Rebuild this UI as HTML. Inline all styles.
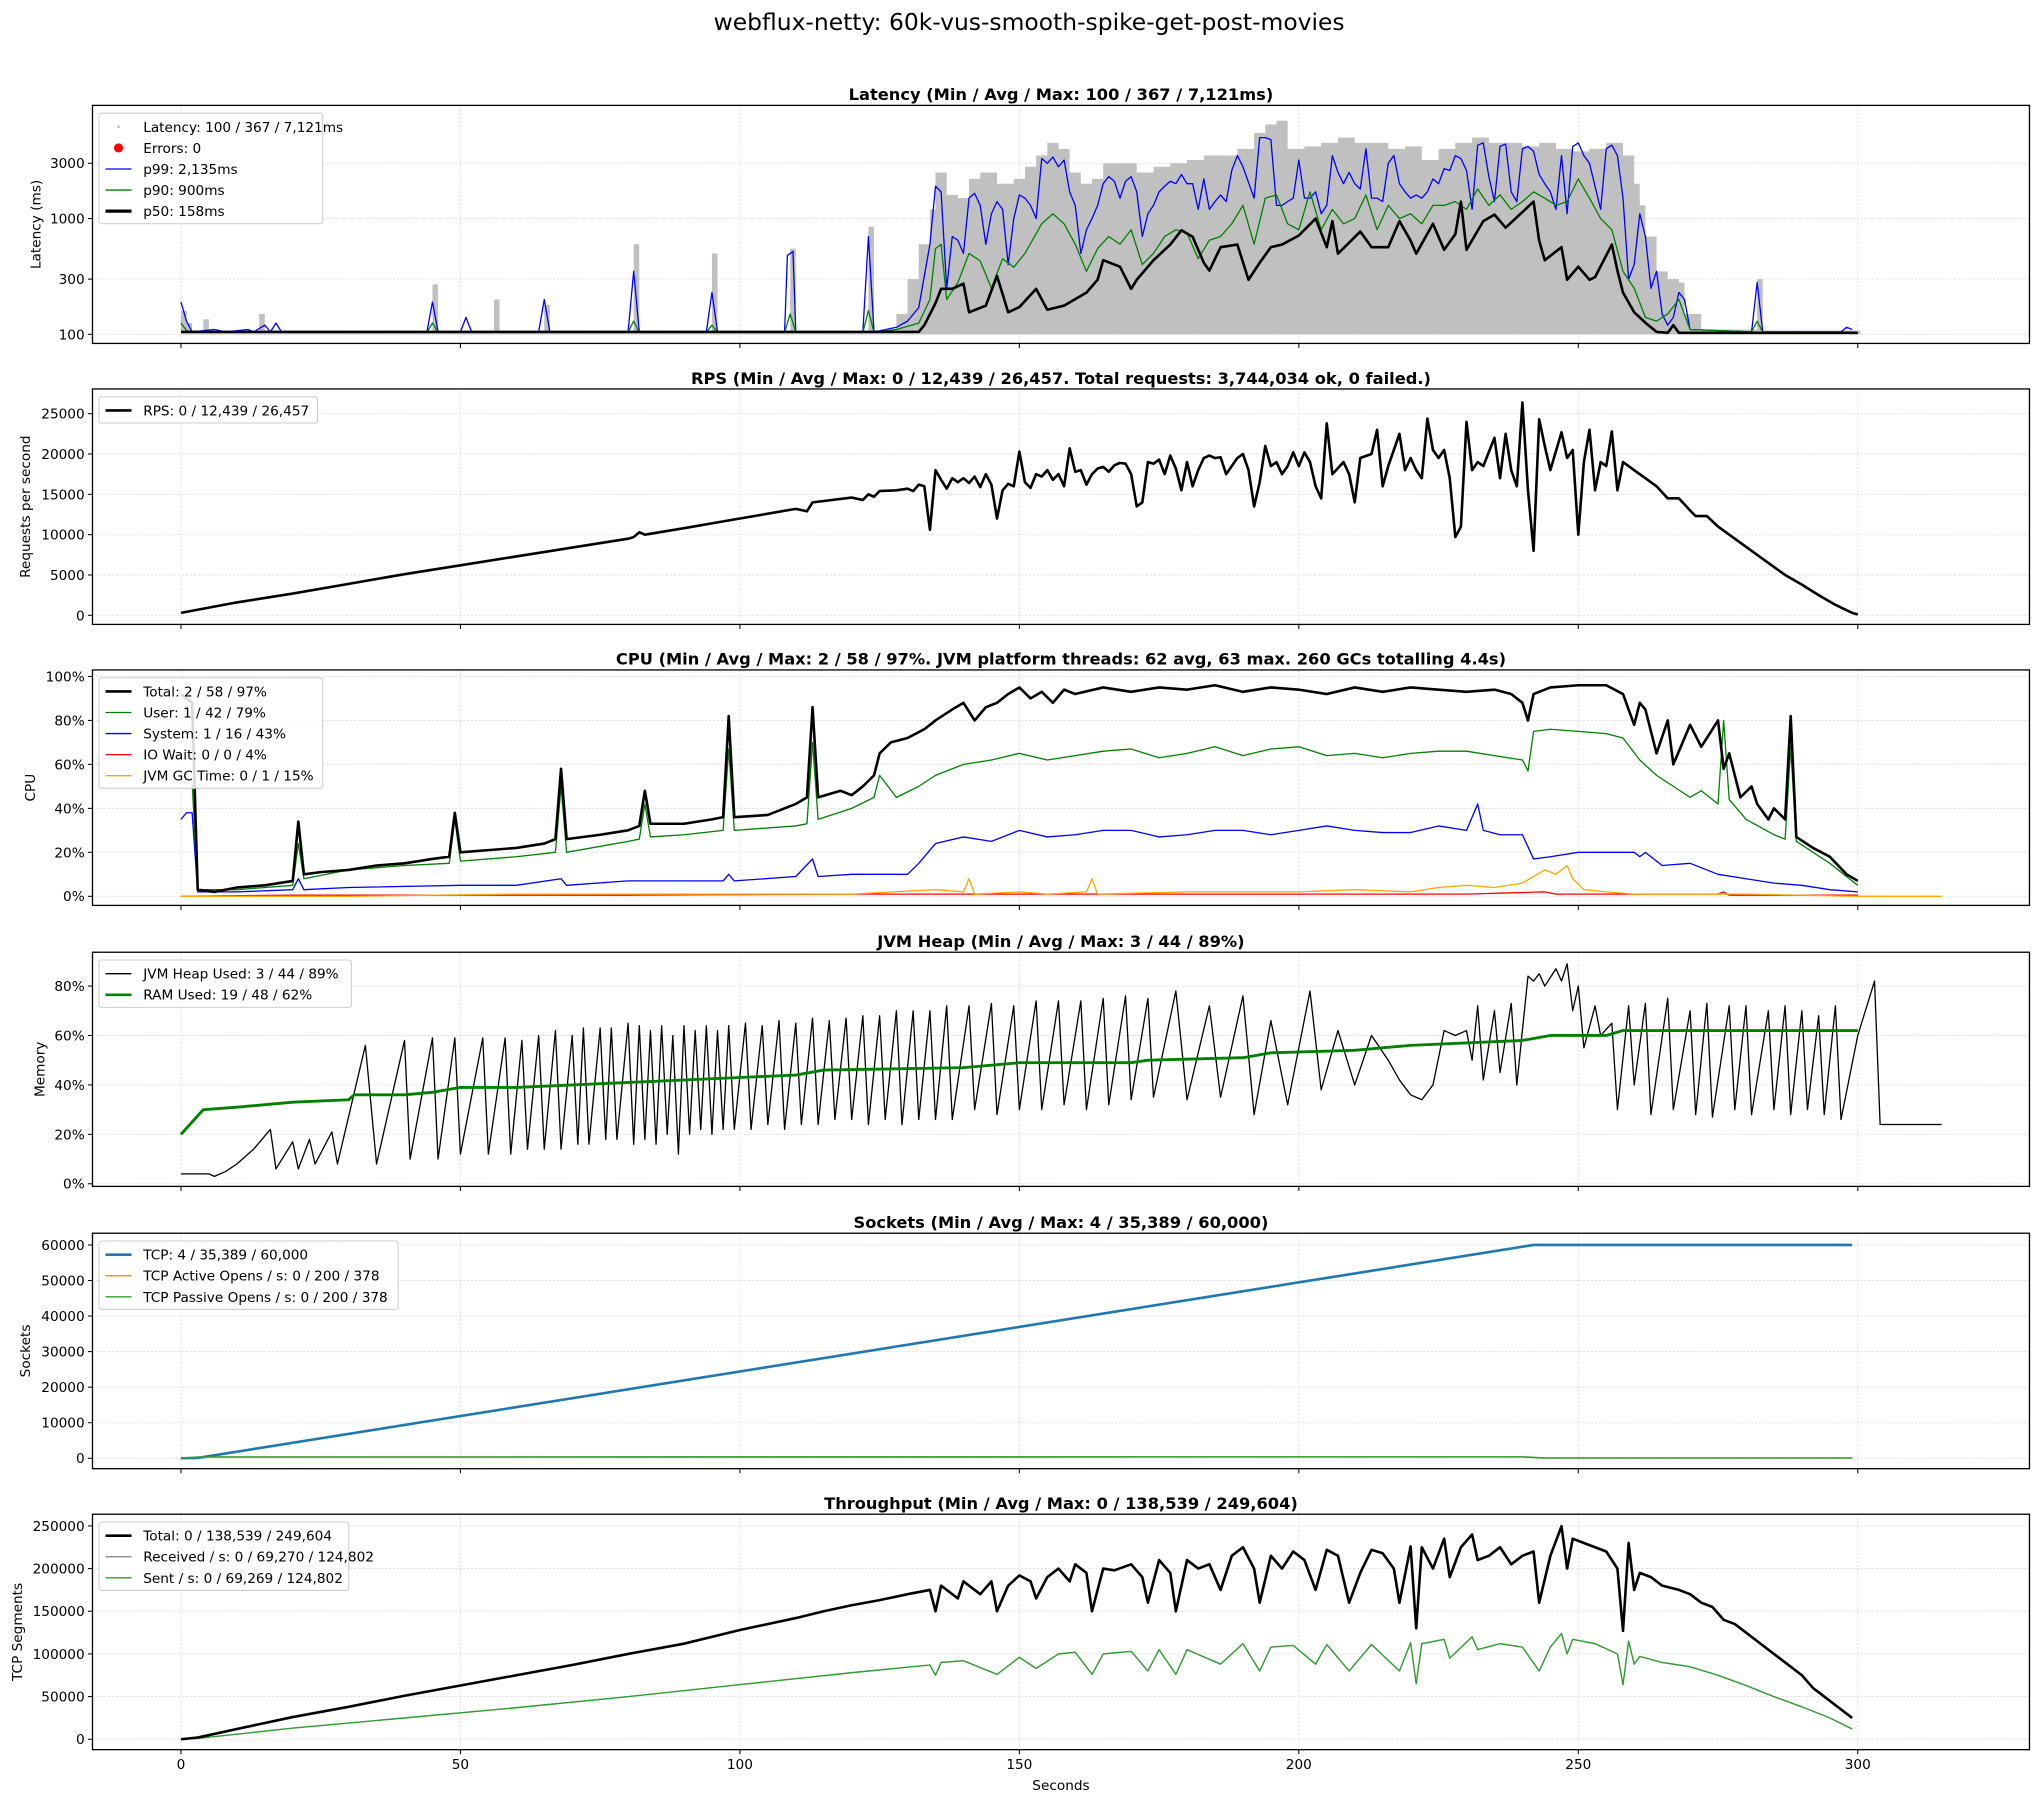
<!DOCTYPE html>
<html><head><meta charset="utf-8"><style>
html,body{margin:0;padding:0;background:#fff}
svg{display:block;font-family:"DejaVu Sans","Liberation Sans",sans-serif}
</style></head><body>
<svg id="chart" width="2040" height="1803" viewBox="0 0 1568 1386" xmlns="http://www.w3.org/2000/svg">
<rect width="1568" height="1386" fill="#fff"/>
<text x="791" y="23" font-size="18" text-anchor="middle">webflux-netty: 60k-vus-smooth-spike-get-post-movies</text>
</svg>
<script>
const xTicks=[0,50,100,150,200,250,300];
const latTicks=[100,300,1000,3000];
const rpsTicks=[0,5000,10000,15000,20000,25000];
const cpuTicks=[0,20,40,60,80,100];
const heapTicks=[0,20,40,60,80];
const sockTicks=[0,10000,20000,30000,40000,50000,60000];
const thrTicks=[0,50000,100000,150000,200000,250000];

const latMax=[[0,160],[1,125],[2,108],[4,135],[5,107],[14,150],[15,107],[44,107],[45,270],[46,107],[55,107],[56,200],[57,107],[64,107],[65,180],[66,107],[80,107],[81,600],[82,107],[94,107],[95,500],[96,107],[108,108],[109,550],[110,107],[122,108],[123,850],[124,108],[128,150],[130,300],[132,600],[134,1200],[135,2500],[137,1600],[139,1500],[141,2200],[143,2500],[146,2000],[149,2200],[151,2800],[153,3500],[155,4500],[157,4000],[159,2500],[161,2000],[163,2200],[165,3000],[168,3000],[171,2500],[174,2800],[177,3000],[180,3200],[183,3500],[186,3500],[189,4000],[192,5500],[194,6500],[196,7000],[198,4000],[201,4200],[204,4500],[207,5000],[210,4500],[213,4500],[216,4000],[219,4200],[222,3200],[225,4000],[228,4500],[231,5000],[234,4500],[237,4500],[240,4200],[243,4500],[246,4000],[249,3800],[252,4000],[255,4500],[258,3500],[260,2000],[261,1300],[262,700],[264,350],[266,300],[268,280],[269,150],[272,110],[281,110],[282,300],[283,108],[300,108]];
const p99=[[0,190],[1,130],[2,105],[6,110],[8,105],[12,110],[13,105],[15,120],[16,105],[17,125],[18,105],[44,105],[45,190],[46,105],[50,105],[51,140],[52,105],[64,105],[65,200],[66,105],[80,105],[81,350],[82,105],[94,105],[95,230],[96,105],[108,105],[108.5,480],[109.5,520],[110,105],[122,105],[123,700],[124,105],[128,115],[130,130],[132,170],[134,600],[135,1900],[136,1700],[137,250],[138,700],[139,650],[140,500],[141,1500],[142,1650],[143,1300],[144,600],[145,1100],[146,1400],[147,1200],[148,400],[149,1000],[150,1600],[151,1500],[152,1300],[153,1000],[154,3300],[155,3000],[156,3400],[157,2800],[158,3200],[159,1700],[160,1300],[161,500],[162,800],[163,1000],[164,1300],[165,2000],[166,2300],[167,2100],[168,1500],[169,2100],[170,2300],[171,1700],[172,700],[173,1100],[174,1300],[175,1700],[176,1900],[177,2100],[178,2000],[179,2400],[180,2000],[181,2000],[182,1200],[183,2200],[184,1200],[185,1400],[186,1600],[187,1400],[188,2600],[189,3500],[190,2800],[192,1500],[193,5000],[194,5000],[195,4800],[196,1300],[197,1300],[198,1400],[199,1500],[200,3200],[201,1500],[202,1500],[203,1700],[204,1100],[205,1300],[206,3500],[207,2500],[208,2000],[209,2500],[210,2000],[211,1800],[212,4000],[213,1500],[214,1500],[215,1400],[216,3000],[217,3500],[218,2000],[219,1700],[220,1500],[221,1600],[222,1500],[223,1700],[224,2200],[225,2000],[226,2700],[227,2600],[228,3500],[229,3300],[230,2600],[231,1200],[232,4300],[233,4500],[234,2300],[235,1400],[236,4200],[237,4400],[238,1700],[239,1400],[240,4000],[241,4200],[242,3800],[243,2400],[244,2000],[245,1700],[246,1200],[247,3500],[248,1100],[249,4200],[250,4500],[251,3500],[252,3000],[254,1200],[255,4000],[256,4300],[257,3500],[258,1500],[259,300],[260,400],[261,1100],[262,700],[263,250],[264,350],[265,150],[266,120],[267,140],[268,230],[269,200],[270,110],[281,105],[282,280],[283,105],[297,105],[298,115],[299,110]];
const p90=[[0,125],[1,108],[2,104],[44,104],[45,125],[46,104],[80,104],[81,130],[82,104],[94,104],[95,120],[96,104],[108,104],[109,150],[110,104],[122,104],[123,160],[124,104],[128,110],[132,125],[134,200],[135,550],[136,600],[137,200],[139,280],[141,500],[143,430],[145,250],[147,450],[149,380],[151,500],[154,900],[156,1100],[158,900],[160,600],[162,350],[164,550],[166,700],[168,600],[170,800],[172,400],[174,500],[176,700],[178,800],[180,750],[182,450],[184,650],[186,700],[188,900],[190,1300],[192,600],[194,1500],[196,1600],[198,900],[200,800],[202,1700],[204,800],[206,1200],[208,900],[210,1000],[212,1600],[214,800],[216,1300],[218,1000],[220,1100],[222,900],[224,1300],[226,1300],[228,1400],[230,1200],[232,1800],[234,1300],[236,1600],[238,1200],[240,1400],[242,1700],[244,1500],[246,1300],[248,1400],[250,2200],[252,1500],[254,1000],[256,800],[258,350],[260,250],[262,140],[264,130],[266,150],[268,200],[270,110],[281,105],[282,130],[283,104],[299,104]];
const p50=[[0,105],[132,105],[133,120],[135,186],[136,247],[138,247],[140,274],[141,155],[144,177],[146,320],[148,155],[150,172],[153,247],[155,163],[158,177],[162,229],[164,296],[165,437],[168,384],[170,247],[171,296],[174,437],[177,596],[179,792],[181,696],[183,415],[184,355],[186,566],[189,596],[191,296],[193,415],[195,566],[197,596],[200,714],[203,1000],[205,566],[206,950],[207,497],[211,772],[213,566],[216,566],[218,950],[220,644],[221,497],[224,902],[226,537],[228,733],[229,1400],[230,537],[233,950],[235,1081],[237,834],[240,1138],[242,1400],[243,644],[244,437],[247,566],[248,296],[250,384],[252,296],[253,312],[256,596],[257,355],[258,229],[260,155],[262,126],[264,105],[266,103],[267,120],[268,103],[300,103]];

const rps=[[0,300],[10,1600],[20,2700],[30,3900],[40,5100],[50,6200],[60,7300],[70,8400],[80,9500],[81,9700],[82,10300],[83,10000],[90,10800],[100,12000],[110,13200],[112,12900],[113,14000],[120,14600],[122,14300],[123,15000],[124,14700],[125,15400],[128,15500],[130,15700],[131,15400],[132,16200],[133,16000],[134,10600],[135,18000],[136,16800],[137,15700],[138,17000],[139,16500],[140,17000],[141,16400],[142,17200],[143,15900],[144,17500],[145,16200],[146,12000],[147,15500],[148,16300],[149,16000],[150,20300],[151,16500],[152,15800],[153,17500],[154,17200],[155,18000],[156,16800],[157,17500],[158,16000],[159,20700],[160,17800],[161,18000],[162,16200],[163,17500],[164,18200],[165,18400],[166,17800],[167,18600],[168,18900],[169,18800],[170,17500],[171,13500],[172,14000],[173,19000],[174,18800],[175,19300],[176,17500],[177,19800],[178,18200],[179,15500],[180,19000],[181,16000],[182,18000],[183,19500],[184,19800],[185,19500],[186,19600],[187,17500],[188,18500],[189,19500],[190,20000],[191,18000],[192,13500],[193,16500],[194,21000],[195,18500],[196,19000],[197,17500],[198,18500],[199,20200],[200,18500],[201,20200],[202,19000],[203,16000],[204,14500],[205,23800],[206,17500],[208,19000],[209,17500],[210,14000],[211,19500],[213,20000],[214,23000],[215,16000],[216,18500],[218,22500],[219,18000],[220,19500],[221,18000],[222,17000],[223,24400],[224,20500],[225,19500],[226,20500],[227,17000],[228,9700],[229,11000],[230,24000],[231,18000],[232,19000],[233,18500],[235,22000],[236,17000],[237,22500],[238,18000],[239,16000],[240,26400],[241,15500],[242,8000],[243,24300],[244,21000],[245,18000],[247,22700],[248,19500],[249,20500],[250,10000],[251,19000],[252,23000],[253,15500],[254,19000],[255,18500],[256,22800],[257,15500],[258,19000],[260,18000],[262,17000],[264,16000],[266,14500],[268,14500],[270,13000],[271,12300],[273,12300],[275,11000],[278,9500],[281,8000],[284,6500],[287,5000],[290,3800],[293,2500],[296,1300],[299,300],[300,100]];

const cpuTotal=[[0,92],[2,88],[3,3],[6,2],[10,4],[15,5],[20,7],[21,34],[22,10],[25,11],[30,12],[35,14],[40,15],[45,17],[48,18],[49,38],[50,20],[55,21],[60,22],[65,24],[67,26],[68,58],[69,26],[75,28],[80,30],[82,32],[83,48],[84,33],[90,33],[95,35],[97,36],[98,82],[99,36],[105,37],[110,42],[112,45],[113,86],[114,45],[118,48],[120,46],[122,50],[124,55],[125,65],[127,70],[130,72],[133,76],[135,80],[138,85],[140,88],[142,80],[144,86],[146,88],[148,92],[150,95],[152,90],[154,93],[156,88],[158,94],[160,92],[165,95],[170,93],[175,95],[180,94],[185,96],[190,93],[195,95],[200,94],[205,92],[210,95],[215,93],[220,95],[225,94],[230,93],[235,94],[238,92],[240,88],[241,80],[242,92],[245,95],[250,96],[255,96],[258,92],[260,78],[261,88],[262,85],[264,65],[266,80],[267,60],[270,78],[272,68],[275,80],[276,58],[277,65],[279,45],[281,50],[282,42],[284,35],[285,40],[287,35],[288,82],[289,27],[292,22],[295,18],[298,10],[300,7]];
const cpuUser=[[0,55],[2,52],[3,3],[10,3],[20,5],[21,24],[22,8],[30,12],[40,14],[48,15],[49,35],[50,16],[60,18],[67,20],[68,50],[69,20],[80,25],[82,26],[83,42],[84,27],[90,28],[97,30],[98,67],[99,30],[110,32],[112,33],[113,70],[114,35],[120,40],[124,45],[125,55],[128,45],[132,50],[135,55],[140,60],[145,62],[150,65],[155,62],[160,64],[165,66],[170,67],[175,63],[180,65],[185,68],[190,64],[195,67],[200,68],[205,64],[210,65],[215,63],[220,65],[225,66],[230,66],[235,64],[240,62],[241,57],[242,75],[245,76],[250,75],[255,74],[258,72],[261,62],[264,55],[267,50],[270,45],[272,48],[275,42],[276,80],[277,44],[280,35],[285,28],[287,26],[288,68],[289,25],[295,15],[300,5]];
const cpuSys=[[0,35],[1,38],[2,38],[3,2],[10,2],[20,3],[21,8],[22,3],[30,4],[50,5],[60,5],[68,8],[69,5],[80,7],[97,7],[98,10],[99,7],[110,9],[113,17],[114,9],[120,10],[130,10],[132,15],[135,24],[140,27],[145,25],[150,30],[155,27],[160,28],[165,30],[170,30],[175,27],[180,28],[185,30],[190,30],[195,28],[200,30],[205,32],[210,30],[215,29],[220,29],[225,32],[230,30],[232,42],[233,30],[236,28],[240,28],[242,17],[245,18],[250,20],[255,20],[260,20],[261,18],[262,20],[265,14],[270,15],[275,10],[280,8],[285,6],[290,5],[295,3],[300,2]];
const cpuIo=[[0,0],[20,0.5],[40,0.5],[80,0.5],[120,1],[200,1],[230,1],[244,2],[246,1],[275,1],[276,2],[277,0.5],[300,0.5]];
const cpuGc=[[0,0],[30,0],[60,1],[90,1],[120,1],[135,3],[140,2],[141,8],[142,1],[150,2],[155,1],[162,2],[163,8],[164,1],[180,2],[200,2],[210,3],[220,2],[225,4],[230,5],[235,4],[240,6],[244,12],[246,10],[248,14],[249,8],[251,3],[255,2],[260,1],[270,1],[280,1],[300,0],[315,0]];

const heapUsed=[[0,4],[5,4],[6,3],[8,5],[10,8],[13,14],[16,22],[17,6],[20,17],[21,6],[23,18],[24,8],[27,21],[28,8],[33,56],[35,8],[40,58],[41,10],[45,59],[46,10],[49,59],[50,12],[54,59],[55,12],[58,59],[59,12],[61,58],[62,14],[64,60],[65,14],[67,62],[68,14],[70,60],[71,16],[72,63],[73,16],[75,63],[76,18],[77,63],[78,18],[80,65],[81,16],[82,64],[83,18],[84,62],[85,16],[86,64],[87,20],[88,60],[89,12],[90,64],[91,20],[92,62],[93,22],[94,64],[95,20],[96,62],[97,22],[98,64],[99,22],[101,65],[102,22],[104,64],[105,24],[107,66],[108,22],[110,65],[111,24],[113,67],[114,24],[116,66],[117,26],[119,67],[120,26],[122,68],[123,24],[125,68],[126,26],[128,70],[129,24],[131,70],[132,26],[134,70],[135,26],[137,72],[138,26],[141,72],[142,30],[145,73],[146,28],[149,72],[150,30],[153,74],[154,30],[157,74],[158,32],[161,74],[162,30],[165,75],[166,32],[169,76],[170,34],[173,75],[174,35],[178,78],[180,34],[184,72],[186,35],[190,76],[192,28],[195,66],[198,32],[202,78],[204,38],[207,62],[210,40],[213,60],[216,50],[218,42],[220,36],[222,34],[224,40],[226,62],[228,60],[230,62],[231,50],[232,72],[233,42],[235,70],[236,45],[238,73],[239,40],[241,84],[242,82],[243,85],[244,80],[246,87],[247,82],[248,89],[249,70],[250,80],[251,55],[253,72],[254,60],[256,65],[257,30],[259,72],[260,40],[262,73],[263,28],[266,75],[267,30],[270,70],[271,28],[273,73],[274,27],[277,72],[278,30],[280,72],[281,28],[284,70],[285,30],[287,72],[288,28],[290,70],[291,30],[293,68],[294,28],[296,72],[297,26],[300,60],[303,82],[304,24],[312,24],[315,24]];
const ramUsed=[[0,20],[2,25],[4,30],[10,31],[20,33],[30,34],[31,36],[40,36],[45,37],[50,39],[60,39],[70,40],[80,41],[100,43],[110,44],[115,46],[140,47],[150,49],[170,49],[173,50],[190,51],[195,53],[210,54],[220,56],[240,58],[245,60],[255,60],[258,62],[300,62]];

const sockTcp=[[0,4],[3,100],[242,60000],[299,60000]];
const sockActive=[[0,0],[3,350],[240,400],[244,80],[299,80]];
const sockPassive=[[0,0],[3,350],[240,400],[244,80],[299,80]];

const thrTotal=[[0,0],[3,2000],[10,12000],[20,26000],[30,38000],[40,51000],[50,63000],[60,75000],[70,87000],[80,100000],[90,112000],[100,128000],[110,142000],[115,150000],[120,157000],[125,163000],[130,170000],[134,175000],[135,150000],[136,180000],[139,165000],[140,185000],[143,170000],[145,185000],[146,150000],[148,180000],[150,192000],[152,185000],[153,165000],[155,190000],[157,200000],[159,185000],[160,205000],[162,195000],[163,150000],[165,200000],[167,198000],[170,205000],[172,190000],[173,160000],[175,210000],[177,195000],[178,150000],[180,210000],[182,200000],[184,205000],[186,175000],[188,215000],[190,225000],[192,200000],[193,160000],[195,215000],[197,200000],[199,220000],[201,210000],[203,175000],[205,222000],[207,215000],[209,160000],[211,195000],[213,222000],[215,218000],[217,200000],[218,160000],[220,226000],[221,130000],[222,225000],[224,200000],[226,235000],[227,190000],[229,225000],[231,240000],[232,210000],[234,215000],[236,225000],[238,205000],[240,215000],[242,220000],[243,160000],[245,215000],[247,249604],[248,200000],[249,235000],[251,230000],[253,225000],[255,220000],[257,200000],[258,127000],[259,230000],[260,175000],[261,195000],[263,190000],[265,180000],[268,175000],[270,170000],[272,160000],[274,155000],[276,140000],[278,135000],[280,125000],[282,115000],[284,105000],[286,95000],[288,85000],[290,75000],[292,60000],[294,50000],[296,40000],[298,30000],[299,25000]];
const thrReceived=[[0,0],[3,1000],[20,13000],[40,25000],[60,37000],[80,50000],[100,64000],[120,78000],[134,87000],[135,75000],[136,90000],[140,92000],[146,76000],[150,96000],[153,83000],[157,100000],[160,102000],[163,76000],[165,100000],[170,103000],[173,80000],[175,105000],[178,76000],[180,105000],[186,88000],[190,112000],[193,80000],[195,108000],[199,110000],[203,88000],[205,111000],[209,80000],[213,111000],[218,80000],[220,113000],[221,65000],[222,112000],[226,117000],[227,95000],[231,120000],[232,105000],[236,112000],[240,108000],[243,80000],[245,108000],[247,124000],[248,100000],[249,117000],[253,112000],[257,100000],[258,64000],[259,115000],[260,88000],[261,97000],[265,90000],[270,85000],[275,75000],[280,63000],[285,50000],[290,38000],[295,25000],[299,12000]];
const thrSent=[[0,0],[3,1000],[20,13000],[40,25000],[60,37000],[80,50000],[100,64000],[120,78000],[134,87000],[135,75000],[136,90000],[140,92000],[146,76000],[150,96000],[153,83000],[157,100000],[160,102000],[163,76000],[165,100000],[170,103000],[173,80000],[175,105000],[178,76000],[180,105000],[186,88000],[190,112000],[193,80000],[195,108000],[199,110000],[203,88000],[205,111000],[209,80000],[213,111000],[218,80000],[220,113000],[221,65000],[222,112000],[226,117000],[227,95000],[231,120000],[232,105000],[236,112000],[240,108000],[243,80000],[245,108000],[247,124000],[248,100000],[249,117000],[253,112000],[257,100000],[258,64000],[259,115000],[260,88000],[261,97000],[265,90000],[270,85000],[275,75000],[280,63000],[285,50000],[290,38000],[295,25000],[299,12000]];

const NS="http://www.w3.org/2000/svg";
const svg=document.getElementById('chart');
const AX_L=71, AX_R=1560;
function xs(t){return 139+t*4.2967;}
function mk(tag,attrs,parent){const e=document.createElementNS(NS,tag);for(const k in attrs)e.setAttribute(k,attrs[k]);(parent||svg).appendChild(e);return e;}
function fmt(v){return String(v);}

const panels=[
 {key:'latency',top:81,bottom:264,lx:27,title:'Latency (Min / Avg / Max: 100 / 367 / 7,121ms)',ylabel:'Latency (ms)',ticks:latTicks,y:v=>257-89*Math.log10(v/100),tl:v=>fmt(v)},
 {key:'rps',top:299,bottom:480,lx:19,title:'RPS (Min / Avg / Max: 0 / 12,439 / 26,457. Total requests: 3,744,034 ok, 0 failed.)',ylabel:'Requests per second',ticks:rpsTicks,y:v=>473-v*31/5000,tl:v=>fmt(v)},
 {key:'cpu',top:515,bottom:696,lx:23,title:'CPU (Min / Avg / Max: 2 / 58 / 97%. JVM platform threads: 62 avg, 63 max. 260 GCs totalling 4.4s)',ylabel:'CPU',ticks:cpuTicks,y:v=>689-v*1.69,tl:v=>v+'%'},
 {key:'heap',top:732,bottom:912,lx:30,title:'JVM Heap (Min / Avg / Max: 3 / 44 / 89%)',ylabel:'Memory',ticks:heapTicks,y:v=>910-v*1.9,tl:v=>v+'%'},
 {key:'sockets',top:948,bottom:1129,lx:19,title:'Sockets (Min / Avg / Max: 4 / 35,389 / 60,000)',ylabel:'Sockets',ticks:sockTicks,y:v=>1121-v*27.33/10000,tl:v=>fmt(v)},
 {key:'throughput',top:1164,bottom:1345,lx:13,title:'Throughput (Min / Avg / Max: 0 / 138,539 / 249,604)',ylabel:'TCP Segments',ticks:thrTicks,y:v=>1337-v*32.8/50000,tl:v=>fmt(v)}
];
const P={};
panels.forEach((p,i)=>{
  P[p.key]=p;
  const g=mk('g',{});
  
  
  const cp=mk('clipPath',{id:'clip-'+p.key},g);
  mk('rect',{x:AX_L,y:p.top,width:AX_R-AX_L,height:p.bottom-p.top},cp);
  xTicks.forEach(t=>{
    const gl=mk('line',{x1:xs(t),x2:xs(t),y1:p.top,y2:p.bottom,stroke:'#dcdcdc','stroke-width':0.7,'stroke-dasharray':'1.5,1.5'},g);
    
    
    const tk=mk('line',{x1:xs(t),x2:xs(t),y1:p.bottom,y2:p.bottom+3.5,stroke:'#000','stroke-width':0.8},g);
    
    
    if(i===panels.length-1){
      const tl=mk('text',{x:xs(t),y:p.bottom+15,'font-size':10.5,'text-anchor':'middle'},g);
      tl.textContent=t;
      
      
    }
  });
  p.ticks.forEach(v=>{
    const yy=p.y(v);
    const gl=mk('line',{x1:AX_L,x2:AX_R,y1:yy,y2:yy,stroke:'#dcdcdc','stroke-width':0.7,'stroke-dasharray':'1.5,1.5'},g);
    
    
    const tk=mk('line',{x1:AX_L-3.5,x2:AX_L,y1:yy,y2:yy,stroke:'#000','stroke-width':0.8},g);
    
    
    const tl=mk('text',{x:AX_L-6,y:yy+3.8,'font-size':10.5,'text-anchor':'end'},g);
    tl.textContent=p.tl(v);
    
    
  });
  const tt=mk('text',{x:(AX_L+AX_R)/2,y:p.top-4,'font-size':12.5,'font-weight':'bold','text-anchor':'middle'},g);
  tt.textContent=p.title;
  
  
  const cy=(p.top+p.bottom)/2;
  const yl=mk('text',{x:0,y:0,'font-size':10.5,'text-anchor':'middle',transform:`translate(${p.lx+4},${cy}) rotate(-90)`},g);
  yl.textContent=p.ylabel;
  
  
  p.g=mk('g',{'clip-path':'url(#clip-'+p.key+')'},g);
  p.frame=g;
});
const xt=mk('text',{x:(AX_L+AX_R)/2,y:1376,'font-size':10.5,'text-anchor':'middle'});
xt.textContent='Seconds';



function line(p,data,color,w,name){
  const d=data.map((pt,i)=>(i?'L':'M')+xs(pt[0]).toFixed(2)+' '+p.y(pt[1]).toFixed(2)).join(' ');
  const e=mk('path',{d:d,fill:'none',stroke:color,'stroke-width':w,'stroke-linejoin':'round'},p.g);
  
  
  return e;
}
(function(){
  const p=P.latency;const base=p.y(100);
  let d='M'+xs(latMax[0][0])+' '+base;
  latMax.forEach((pt,i)=>{
    const x1=xs(pt[0]);const x2=i<latMax.length-1?xs(latMax[i+1][0]):x1+2;
    const y=p.y(pt[1]);
    d+=' L'+x1.toFixed(2)+' '+y.toFixed(2)+' L'+x2.toFixed(2)+' '+y.toFixed(2);
  });
  d+=' L'+xs(latMax[latMax.length-1][0]+0.5)+' '+base+' Z';
  const e=mk('path',{d:d,fill:'#c0c0c0',stroke:'none'},p.g);
  
  
})();
line(P.latency,p99,'#0000ff',1,'p99-line');
line(P.latency,p90,'#008000',1,'p90-line');
line(P.latency,p50,'#000',2,'p50-line');
line(P.rps,rps,'#000',2,'rps-line');
line(P.cpu,cpuIo,'#ff0000',1,'cpu-io-wait-line');
line(P.cpu,cpuGc,'#ffa500',1,'cpu-gc-line');
line(P.cpu,cpuSys,'#0000ff',1,'cpu-system-line');
line(P.cpu,cpuUser,'#008000',1,'cpu-user-line');
line(P.cpu,cpuTotal,'#000',2,'cpu-total-line');
line(P.heap,heapUsed,'#000',1,'heap-used-line');
line(P.heap,ramUsed,'#008000',2.2,'ram-used-line');
line(P.sockets,sockTcp,'#1f77b4',2,'tcp-sockets-line');
line(P.sockets,sockActive,'#ff7f0e',1,'tcp-active-opens-line');
line(P.sockets,sockPassive,'#2ca02c',1.2,'tcp-passive-opens-line');
line(P.throughput,thrReceived,'#808080',1,'received-line');
line(P.throughput,thrSent,'#2ca02c',1,'sent-line');
line(P.throughput,thrTotal,'#000',2,'throughput-total-line');

panels.forEach(p=>{
  const r=mk('rect',{x:AX_L,y:p.top,width:AX_R-AX_L,height:p.bottom-p.top,fill:'none',stroke:'#000','stroke-width':1},p.frame);
  
  
});

function legend(p,x,y,w,entries,name){
  const g=mk('g',{},p.frame);
  
  
  const h=entries.length*16.2+4;
  mk('rect',{x:x,y:y,width:w,height:h,rx:2,fill:'#fff','fill-opacity':0.85,stroke:'#cccccc','stroke-width':0.8},g);
  entries.forEach((en,i)=>{
    const cy=y+10.5+i*16.2;
    const eg=mk('g',{},g);
    
    
    if(en.m==='dot') mk('circle',{cx:x+15,cy:cy,r:en.r,fill:en.c},eg);
    else mk('line',{x1:x+5,x2:x+25,y1:cy,y2:cy,stroke:en.c,'stroke-width':en.w},eg);
    const t=mk('text',{x:x+34,y:cy+3.8,'font-size':10.5},eg);
    t.textContent=en.t;
  });
}
legend(P.latency,76,87,172,[{m:'dot',r:1,c:'#bbb',t:'Latency: 100 / 367 / 7,121ms'},{m:'dot',r:3.5,c:'#ff0000',t:'Errors: 0'},{c:'#0000ff',w:1,t:'p99: 2,135ms'},{c:'#008000',w:1,t:'p90: 900ms'},{c:'#000',w:2.5,t:'p50: 158ms'}],'latency-legend');
legend(P.rps,76,305,168,[{c:'#000',w:2,t:'RPS: 0 / 12,439 / 26,457'}],'rps-legend');
legend(P.cpu,76,521,172,[{c:'#000',w:2,t:'Total: 2 / 58 / 97%'},{c:'#008000',w:1,t:'User: 1 / 42 / 79%'},{c:'#0000ff',w:1,t:'System: 1 / 16 / 43%'},{c:'#ff0000',w:1,t:'IO Wait: 0 / 0 / 4%'},{c:'#ffa500',w:1,t:'JVM GC Time: 0 / 1 / 15%'}],'cpu-legend');
legend(P.heap,76,738,194,[{c:'#000',w:1,t:'JVM Heap Used: 3 / 44 / 89%'},{c:'#008000',w:2,t:'RAM Used: 19 / 48 / 62%'}],'heap-legend');
legend(P.sockets,76,954,230,[{c:'#1f77b4',w:2,t:'TCP: 4 / 35,389 / 60,000'},{c:'#ff7f0e',w:1,t:'TCP Active Opens / s: 0 / 200 / 378'},{c:'#2ca02c',w:1,t:'TCP Passive Opens / s: 0 / 200 / 378'}],'sockets-legend');
legend(P.throughput,76,1170,192,[{c:'#000',w:2,t:'Total: 0 / 138,539 / 249,604'},{c:'#808080',w:1,t:'Received / s: 0 / 69,270 / 124,802'},{c:'#2ca02c',w:1,t:'Sent / s: 0 / 69,269 / 124,802'}],'throughput-legend');
</script>
</body></html>
